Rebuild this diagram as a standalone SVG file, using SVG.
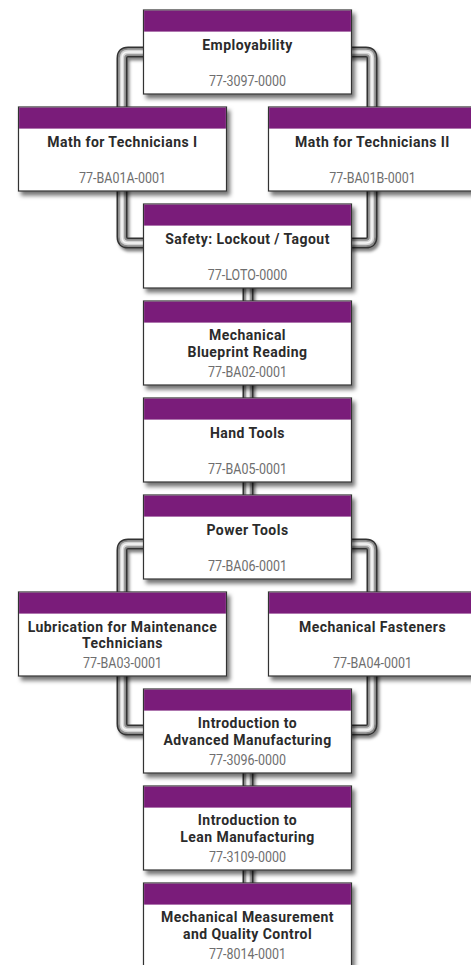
<svg xmlns="http://www.w3.org/2000/svg" width="471" height="965" viewBox="0 0 471 965">
  <defs>
    <filter id="shadow" x="-10%" y="-10%" width="130%" height="140%">
      <feDropShadow dx="3" dy="4" stdDeviation="2" flood-color="#000" flood-opacity="0.55"/>
    </filter>
    <filter id="pipeShadow" x="-20%" y="-10%" width="140%" height="130%">
      <feDropShadow dx="2" dy="3" stdDeviation="1.6" flood-color="#000" flood-opacity="0.5"/>
    </filter>
    <!-- one course card: white body, purple header band -->
    <g id="card">
      <rect x="0" y="0" width="208" height="84" fill="#fff" stroke="#333" stroke-width="1.2"/>
      <rect x="0.6" y="0.6" width="206.8" height="21" fill="#7a1d7a"/>
    </g>
    <!-- tube routes -->
    <path id="a1" d="M160,52 H128 Q122,52 122,58 V237 Q122,243 128,243 H160"/>
    <path id="a2" d="M330,52 H366 Q372,52 372,58 V237 Q372,243 366,243 H330"/>
    <path id="b1" d="M160,544 H128 Q122,544 122,550 V724 Q122,730 128,730 H160"/>
    <path id="b2" d="M330,544 H366 Q372,544 372,550 V724 Q372,730 366,730 H330"/>
    <path id="s1" d="M248,280 V310"/>
    <path id="s2" d="M248,377 V407"/>
    <path id="s3" d="M248,474 V504"/>
    <path id="s4" d="M248,766 V795"/>
    <path id="s5" d="M248,863 V892"/>
    <g id="routes">
      <use href="#a1"/><use href="#a2"/><use href="#b1"/><use href="#b2"/>
      <use href="#s1"/><use href="#s2"/><use href="#s3"/><use href="#s4"/><use href="#s5"/>
    </g>
  </defs>
  <style>
    .p0 { fill: none; stroke: #333; stroke-width: 11; }
    .p1 { fill: none; stroke: #8c8c8c; stroke-width: 8; }
    .p2 { fill: none; stroke: #d4d4d4; stroke-width: 4.5; }
    .p3 { fill: none; stroke: #f6f6f6; stroke-width: 1.6; }
    .t { font-family: Roboto, "Liberation Sans", sans-serif; font-weight: bold; font-size: 14px; letter-spacing: 0.45px; fill: #2b2b2b; text-anchor: middle; }
    .c { font-family: Roboto, "Liberation Sans", sans-serif; font-size: 14.5px; fill: #6e6e6e; text-anchor: middle; }
  </style>

  <!-- connectors: layered strokes give the tube look -->
  <g id="connectors">
    <use href="#routes" class="p0" filter="url(#pipeShadow)"/>
    <use href="#routes" class="p1"/>
    <use href="#routes" class="p2"/>
    <use href="#routes" class="p3"/>
  </g>

  <!-- course cards -->
  <g id="employability" transform="translate(143.5,10)">
    <use href="#card" filter="url(#shadow)"/>
    <text class="t" x="104" y="40">Employability</text>
    <text class="c" transform="translate(104,76) scale(0.86,1)">77-3097-0000</text>
  </g>
  <g id="math1" transform="translate(18.5,107)">
    <use href="#card" filter="url(#shadow)"/>
    <text class="t" x="104" y="40">Math for Technicians I</text>
    <text class="c" transform="translate(104,76) scale(0.86,1)">77-BA01A-0001</text>
  </g>
  <g id="math2" transform="translate(268.5,107)">
    <use href="#card" filter="url(#shadow)"/>
    <text class="t" x="104" y="40">Math for Technicians II</text>
    <text class="c" transform="translate(104,76) scale(0.86,1)">77-BA01B-0001</text>
  </g>
  <g id="safety" transform="translate(143.5,204)">
    <use href="#card" filter="url(#shadow)"/>
    <text class="t" x="104" y="40">Safety: Lockout / Tagout</text>
    <text class="c" transform="translate(104,76) scale(0.86,1)">77-LOTO-0000</text>
  </g>
  <g id="blueprint" transform="translate(143.5,301)">
    <use href="#card" filter="url(#shadow)"/>
    <text class="t" x="104" y="39">Mechanical</text>
    <text class="t" x="104" y="55.5">Blueprint Reading</text>
    <text class="c" transform="translate(104,75.5) scale(0.86,1)">77-BA02-0001</text>
  </g>
  <g id="handtools" transform="translate(143.5,398)">
    <use href="#card" filter="url(#shadow)"/>
    <text class="t" x="104" y="40">Hand Tools</text>
    <text class="c" transform="translate(104,76) scale(0.86,1)">77-BA05-0001</text>
  </g>
  <g id="powertools" transform="translate(143.5,495)">
    <use href="#card" filter="url(#shadow)"/>
    <text class="t" x="104" y="40">Power Tools</text>
    <text class="c" transform="translate(104,76) scale(0.86,1)">77-BA06-0001</text>
  </g>
  <g id="lubrication" transform="translate(18.5,592)">
    <use href="#card" filter="url(#shadow)"/>
    <text class="t" x="104" y="39.5">Lubrication for Maintenance</text>
    <text class="t" x="104" y="56">Technicians</text>
    <text class="c" transform="translate(104,76) scale(0.86,1)">77-BA03-0001</text>
  </g>
  <g id="fasteners" transform="translate(268.5,592)">
    <use href="#card" filter="url(#shadow)"/>
    <text class="t" x="104" y="40">Mechanical Fasteners</text>
    <text class="c" transform="translate(104,76) scale(0.86,1)">77-BA04-0001</text>
  </g>
  <g id="advmfg" transform="translate(143.5,689)">
    <use href="#card" filter="url(#shadow)"/>
    <text class="t" x="104" y="39">Introduction to</text>
    <text class="t" x="104" y="56">Advanced Manufacturing</text>
    <text class="c" transform="translate(104,76) scale(0.86,1)">77-3096-0000</text>
  </g>
  <g id="leanmfg" transform="translate(143.5,786)">
    <use href="#card" filter="url(#shadow)"/>
    <text class="t" x="104" y="39">Introduction to</text>
    <text class="t" x="104" y="55.5">Lean Manufacturing</text>
    <text class="c" transform="translate(104,75.5) scale(0.86,1)">77-3109-0000</text>
  </g>
  <g id="measurement" transform="translate(143.5,883)">
    <use href="#card" filter="url(#shadow)"/>
    <text class="t" x="104" y="39">Mechanical Measurement</text>
    <text class="t" x="104" y="55.5">and Quality Control</text>
    <text class="c" transform="translate(104,75.5) scale(0.86,1)">77-8014-0001</text>
  </g>
</svg>
